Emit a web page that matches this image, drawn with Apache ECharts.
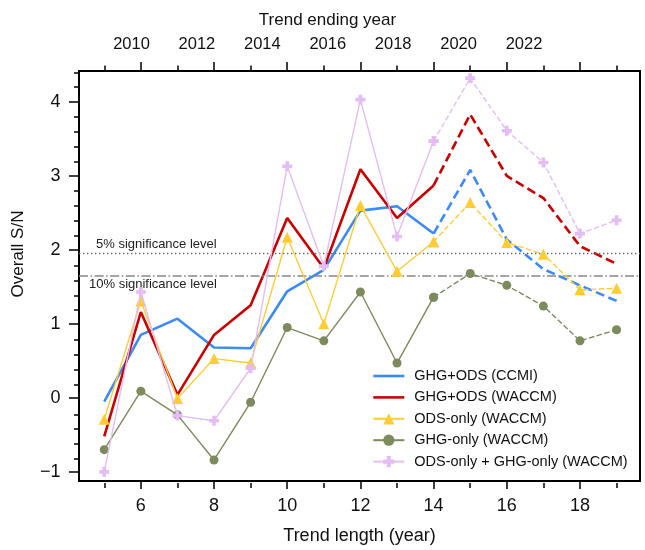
<!DOCTYPE html>
<html><head><meta charset="utf-8">
<script src="https://cdn.jsdelivr.net/npm/echarts@6/dist/echarts.min.js"></script>
<style>html,body{margin:0;padding:0;background:#fff}#c{width:645px;height:550px}</style>
</head><body><div id="c"></div>
<script>
// ---- data ----
const trendLength = [5, 6, 7, 8, 9, 10, 11, 12, 13, 14, 15, 16, 17, 18, 19];
const ghgOdsCCMI  = [-0.05, 0.85, 1.07, 0.68, 0.67, 1.44, 1.73, 2.53, 2.59, 2.22, 3.08, 2.14, 1.74, 1.52, 1.31];
const ghgOdsWACCM = [-0.52, 1.16, 0.04, 0.85, 1.25, 2.43, 1.75, 3.09, 2.43, 2.87, 3.83, 3.00, 2.70, 2.05, 1.81];
const odsOnly     = [-0.29, 1.31, -0.01, 0.53, 0.47, 2.17, 1.00, 2.60, 1.71, 2.11, 2.64, 2.10, 1.94, 1.46, 1.48];
const ghgOnly     = [-0.70, 0.09, -0.23, -0.84, -0.06, 0.95, 0.77, 1.43, 0.47, 1.36, 1.68, 1.52, 1.24, 0.77, 0.92];
const odsPlusGhg  = [-1.00, 1.43, -0.24, -0.31, 0.40, 3.13, 1.78, 4.03, 2.18, 3.47, 4.32, 3.61, 3.18, 2.22, 2.40];
const seriesNames = ['GHG+ODS (CCMI)', 'GHG+ODS (WACCM)', 'ODS-only (WACCM)', 'GHG-only (WACCM)', 'ODS-only + GHG-only (WACCM)'];
const dashFrom = 14;   // trend length from which lines are dashed
const sig5 = 1.96;
const sig10 = 1.645;
const sigLabels = ['5% significance level', '10% significance level'];
const xTickMajor = [6, 8, 10, 12, 14, 16, 18];
const xTickMinor = [5, 7, 9, 11, 13, 15, 17, 19];
const yTickMajor = [-1, 0, 1, 2, 3, 4];
const yTickMinor = [-0.8, -0.6, -0.4, -0.2, 0.2, 0.4, 0.6, 0.8, 1.2, 1.4, 1.6, 1.8, 2.2, 2.4, 2.6, 2.8, 3.2, 3.4, 3.6, 3.8, 4.2, 4.4];
const yearTicks = [2010, 2012, 2014, 2016, 2018, 2020, 2022];

// ---- styling ----
const FONT = "'Liberation Sans', Arial, Helvetica, sans-serif";
const X_MIN = 4.31, X_MAX = 19.64, Y_MIN = -1.124, Y_MAX = 4.417;
const YEAR_MIN = 2008.395, YEAR_MAX = 2025.546;
const gridRect = { left: 79, right: 5, top: 71, bottom: 67 };
const plusPath = 'path://M-1.1,-3L1.1,-3L1.1,-1.1L3,-1.1L3,1.1L1.1,1.1L1.1,3L-1.1,3L-1.1,1.1L-3,1.1L-3,-1.1L-1.1,-1.1Z';

const styles = [
  { color: '#3a8bf7', width: 2.6, symbol: 'none', size: 0, dash: [9, 4.5] },
  { color: '#cc0000', width: 2.6, symbol: 'none', size: 0, dash: [9, 4.5] },
  { color: '#ffcc33', width: 1.4, symbol: 'triangle', size: 11, dash: [5.5, 2.5] },
  { color: '#7d8a5e', width: 1.4, symbol: 'circle', size: 9, dash: [5.5, 2.5] },
  { color: '#e3bdf3', width: 1.4, symbol: plusPath, size: 10, dash: [5.5, 2.5] }
];
const values = [ghgOdsCCMI, ghgOdsWACCM, odsOnly, ghgOnly, odsPlusGhg];

function pairs(vals, solid) {
  const out = [];
  trendLength.forEach((x, i) => {
    if (solid ? x <= dashFrom : x >= dashFrom) out.push([x, vals[i]]);
  });
  return out;
}

const series = [];
values.forEach((vals, k) => {
  const st = styles[k];
  ['solid', 'dashed'].forEach(part => {
    series.push({
      type: 'line',
      name: part === 'solid' ? seriesNames[k] : seriesNames[k] + ' (cont.)',
      xAxisIndex: 0, yAxisIndex: 0,
      data: pairs(vals, part === 'solid'),
      symbol: st.symbol === 'none' ? 'circle' : st.symbol,
      symbolSize: st.size,
      showSymbol: st.symbol !== 'none',
      color: st.color,
      lineStyle: { color: st.color, width: st.width, type: part === 'solid' ? 'solid' : st.dash },
      itemStyle: { color: st.color },
      silent: true,
      animation: false,
      z: 3 + k
    });
  });
});

series[0].markLine = {
  silent: true,
  symbol: ['none', 'none'],
  animation: false,
  data: [
    { yAxis: sig5, lineStyle: { color: '#666', width: 1.4, type: [1.4, 2.6] },
      label: { show: true, position: 'insideStartTop', formatter: sigLabels[0], distance: [17, 2], color: '#222', fontSize: 13, fontFamily: FONT } },
    { yAxis: sig10, lineStyle: { color: '#888', width: 1.6, type: [9, 2.5, 1.6, 2.5] },
      label: { show: true, position: 'insideStartBottom', formatter: sigLabels[1], distance: [10, 2], color: '#222', fontSize: 13, fontFamily: FONT } }
  ]
};

const tickStyle = { color: '#000', width: 1.5 };
const hiddenLabel = { show: false };
const noLine = { show: false, onZero: false };

const legendData = seriesNames.map((n, k) =>
  styles[k].symbol === 'none'
    ? { name: n, itemStyle: { opacity: 0 }, lineStyle: { width: 2.6 } }
    : { name: n });

const option = {
  backgroundColor: '#fff',
  animation: false,
  textStyle: { fontFamily: FONT, color: '#111' },
  grid: [
    Object.assign({ show: true, borderColor: '#000', borderWidth: 2, backgroundColor: 'transparent' }, gridRect),
    Object.assign({ show: false }, gridRect),
    Object.assign({ show: false }, gridRect)
  ],
  xAxis: [
    { gridIndex: 0, type: 'value', position: 'bottom', min: X_MIN, max: X_MAX,
      axisLine: noLine, splitLine: { show: false },
      axisTick: { show: true, customValues: xTickMajor, length: 8, lineStyle: tickStyle },
      axisLabel: { customValues: xTickMajor, margin: 16, fontSize: 18, color: '#111', fontFamily: FONT },
      name: 'Trend length (year)', nameLocation: 'middle', nameGap: 46,
      nameTextStyle: { fontSize: 18, color: '#111', fontFamily: FONT } },
    { gridIndex: 0, type: 'value', position: 'top', min: X_MIN, max: X_MAX,
      axisLine: noLine, splitLine: { show: false },
      axisTick: { show: true, customValues: xTickMajor, length: 9, lineStyle: tickStyle },
      axisLabel: hiddenLabel },
    { gridIndex: 1, type: 'value', position: 'bottom', min: X_MIN, max: X_MAX,
      axisLine: noLine, splitLine: { show: false },
      axisTick: { show: true, customValues: xTickMinor, length: 5, lineStyle: tickStyle },
      axisLabel: hiddenLabel },
    { gridIndex: 1, type: 'value', position: 'top', min: X_MIN, max: X_MAX,
      axisLine: noLine, splitLine: { show: false },
      axisTick: { show: true, customValues: xTickMinor, length: 5.5, lineStyle: tickStyle },
      axisLabel: hiddenLabel },
    { gridIndex: 2, type: 'value', position: 'top', min: YEAR_MIN, max: YEAR_MAX,
      axisLine: noLine, splitLine: { show: false }, axisTick: { show: false },
      axisLabel: { customValues: yearTicks, margin: 18, fontSize: 16.5, color: '#111', fontFamily: FONT,
        formatter: v => String(v) } }
  ],
  yAxis: [
    { gridIndex: 0, type: 'value', min: Y_MIN, max: Y_MAX,
      axisLine: noLine, splitLine: { show: false },
      axisTick: { show: true, customValues: yTickMajor, length: 10, lineStyle: tickStyle },
      axisLabel: { customValues: yTickMajor, margin: 18.5, fontSize: 18, color: '#111', fontFamily: FONT,
        formatter: v => (v < 0 ? '\u2212' + Math.abs(v) : String(v)) } },
    { gridIndex: 1, type: 'value', min: Y_MIN, max: Y_MAX,
      axisLine: noLine, splitLine: { show: false },
      axisTick: { show: true, customValues: yTickMinor, length: 5, lineStyle: tickStyle },
      axisLabel: hiddenLabel },
    { gridIndex: 2, type: 'value', min: Y_MIN, max: Y_MAX, show: false }
  ],
  legend: {
    orient: 'vertical', left: 372, top: 368.5, padding: 0,
    itemWidth: 31, itemHeight: 14, itemGap: 6.4,
    data: legendData,
    textStyle: { fontSize: 14.5, color: '#111', fontFamily: FONT, padding: [0, 0, 0, 5] },
    selectedMode: false
  },
  graphic: [
    { type: 'text', x: 327.5, y: 20, silent: true,
      style: { text: 'Trend ending year', fontSize: 17, fontFamily: FONT, fill: '#111', align: 'center', verticalAlign: 'middle' } },
    { type: 'text', x: 18.5, y: 254, rotation: Math.PI / 2, silent: true,
      style: { text: 'Overall S/N', fontSize: 17, fontFamily: FONT, fill: '#111', align: 'center', verticalAlign: 'middle' } }
  ],
  series: series
};

const chart = echarts.init(document.getElementById('c'), null, { renderer: 'canvas' });
chart.setOption(option);
</script>
</body></html>
